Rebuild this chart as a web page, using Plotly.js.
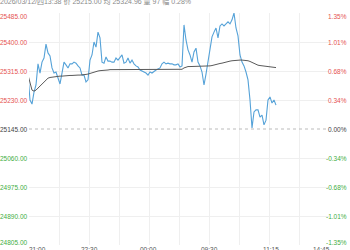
<!DOCTYPE html>
<html>
<head>
<meta charset="utf-8">
<script src="https://cdn.plot.ly/plotly-3.0.1.min.js"></script>
<style>
html,body{margin:0;padding:0;background:#fff;}
#chart{width:350px;height:250px;}
</style>
</head>
<body>
<div id="chart"></div>
<script>
// ---- data ----
const prevClose = 25145;
const headerText = '2026/03/12/四13:38 价 25215.00 均 25324.96 量 97 幅 0.28%';
const price = [
25303,25230,25218,25253,25274,25336,25309,25341,25353,25394,
25368,25359,25324,25309,25312,25294,25277,25309,25341,25333,
25324,25336,25336,25341,25338,25330,25324,25303,25303,25283,
25289,25347,25362,25400,25385,25429,25412,25341,25338,25356,
25344,25344,25341,25341,25353,25347,25353,25362,25338,25341,
25353,25338,25347,25336,25330,25327,25318,25315,25312,25309,
25303,25312,25309,25315,25318,25321,25324,25336,25341,25336,
25338,25336,25336,25333,25333,25336,25327,25330,25450,25406,
25377,25362,25341,25371,25382,25341,25330,25312,25274,25306,
25341,25371,25415,25429,25441,25412,25447,25453,25447,25453,
25459,25453,25465,25485,25441,25418,25362,25341,25330,25312,
25289,25230,25148,25195,25201,25201,25180,25186,25157,25171,
25230,25239,25221,25230,25215
];
const avgPrice = [
25303,25277,25259,25256,25259,25265,25271,25277,25283,25289,
25294,25296,25297,25299,25299,25300,25300,25300,25301,25301,
25302,25302,25302,25303,25303,25303,25303,25303,25305,25305,
25306,25308,25311,25312,25314,25315,25316,25316,25317,25318,
25318,25319,25319,25319,25320,25320,25320,25320,25320,25321,
25321,25321,25321,25321,25321,25320,25320,25320,25320,25320,
25319,25319,25319,25319,25319,25319,25319,25319,25319,25319,
25319,25319,25320,25320,25320,25320,25320,25320,25324,25327,
25328,25328,25328,25328,25328,25328,25328,25328,25328,25328,
25329,25330,25331,25333,25334,25335,25337,25338,25340,25341,
25343,25344,25345,25346,25347,25347,25347,25347,25347,25346,
25345,25343,25340,25337,25334,25332,25331,25330,25329,25328,
25327,25327,25326,25325,25325
];
const yTickValues = [25485, 25400, 25315, 25230, 25145, 25060, 24975, 24890, 24805];
const xTickLabels = ['21:00', '22:30', '00:00', '09:30', '11:15', '14:45'];
const xTickSlots = [4.5, 30.5, 60, 90.5, 121.5, 146.5];

// ---- styling ----
const FONT = 'Liberation Sans, Arial, Noto Sans CJK SC, sans-serif';
const FS = 6.5;
const RED = '#e5534f', GREEN = '#3fae3f', NEUTRAL = '#444';

const slots = price.map((_, i) => i);
const xRange = [0.5, 150.5];
const gridX = [];
for (let v = 15.5; v < 140; v += 15) gridX.push(v);

const traces = [
  {x: slots, y: price, type: 'scatter', mode: 'lines',
   line: {color: '#55a2d8', width: 1.1}, hoverinfo: 'skip'},
  {x: slots, y: avgPrice, type: 'scatter', mode: 'lines',
   line: {color: '#5a5a5a', width: 1}, hoverinfo: 'skip'}
];

const annotations = [];
const nT = yTickValues.length;
yTickValues.forEach((v, i) => {
  const col = v > prevClose ? RED : (v < prevClose ? GREEN : NEUTRAL);
  const pct = ((v - prevClose) / prevClose * 100).toFixed(2) + '%';
  const shift = i === 0 ? -3 : (i === nT - 1 ? 3 : 0);
  annotations.push({xref: 'paper', yref: 'y', x: 0, y: v, xanchor: 'right', yanchor: 'middle',
    xshift: 0, yshift: shift, text: v.toFixed(2), showarrow: false,
    font: {family: FONT, size: FS, color: col}});
  annotations.push({xref: 'paper', yref: 'y', x: 1, y: v, xanchor: 'right', yanchor: 'middle',
    xshift: 20, yshift: shift, text: pct, showarrow: false,
    font: {family: FONT, size: FS, color: col}});
});
xTickLabels.forEach((t, i) => {
  annotations.push({xref: 'x', yref: 'paper', x: xTickSlots[i], y: 0, xanchor: 'center', yanchor: 'top',
    yshift: 1, text: t, showarrow: false, font: {family: FONT, size: FS, color: '#555'}});
});
annotations.push({xref: 'paper', yref: 'paper', x: 0, y: 1, xanchor: 'left', yanchor: 'bottom',
  xshift: -31, yshift: 5, text: headerText, showarrow: false,
  font: {family: FONT, size: 7, color: '#8a8a8a'}});

const layout = {
  width: 350, height: 250,
  margin: {l: 29, r: 21, t: 13, b: 5, pad: 0},
  paper_bgcolor: '#ffffff', plot_bgcolor: '#ffffff',
  showlegend: false,
  xaxis: {range: xRange, tickmode: 'array', tickvals: gridX, showticklabels: false,
    showgrid: true, gridcolor: '#efefef', gridwidth: 1, zeroline: false, showline: false, ticks: ''},
  yaxis: {range: [yTickValues[nT - 1], yTickValues[0]], tickmode: 'array',
    tickvals: yTickValues.filter(v => v !== prevClose), showticklabels: false,
    showgrid: true, gridcolor: '#efefef', gridwidth: 1, zeroline: false, showline: false, ticks: ''},
  shapes: [{type: 'line', xref: 'paper', yref: 'y', x0: 0, x1: 0.99, y0: prevClose, y1: prevClose,
    line: {color: '#bbbbbb', width: 1, dash: '3px,3px'}}],
  annotations: annotations
};

Plotly.newPlot('chart', traces, layout, {staticPlot: true, displayModeBar: false});
</script>
</body>
</html>
